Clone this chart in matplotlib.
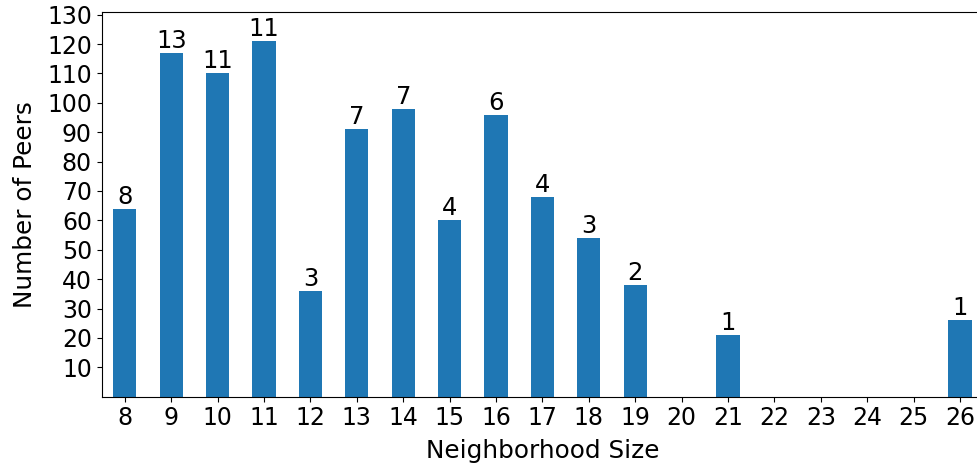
import numpy as np
import matplotlib.pyplot as plt

# neighborhood size -> number of peers, plus count shown above each bar
sizes = [8, 9, 10, 11, 12, 13, 14, 15, 16, 17, 18, 19, 20, 21, 22, 23, 24, 25, 26]
peers = [64, 117, 110, 121, 36, 91, 98, 60, 96, 68, 54, 38, 0, 21, 0, 0, 0, 0, 26]
counts = [8, 13, 11, 11, 3, 7, 7, 4, 6, 4, 3, 2, None, 1, None, None, None, None, 1]

fig = plt.figure(figsize=(9.77, 4.68), dpi=100)
ax = fig.add_axes([0.1041, 0.1524, 0.9022, 0.822])

x = np.arange(len(sizes))
bars = ax.bar(x, peers, width=0.5, color='#1f77b4')
ax.bar_label(bars, labels=['' if c is None else str(c) for c in counts], fontsize=17.5, padding=0)

ax.set_xticks(x)
ax.set_xticklabels([str(s) for s in sizes], fontsize=17)
ax.set_yticks(np.arange(10, 131, 10))
ax.tick_params(axis='y', labelsize=17)
ax.set_xlim(-0.5, len(sizes) - 0.5)
ax.set_ylim(0, 130.9)
ax.set_xlabel('Neighborhood Size', fontsize=17.8, labelpad=6)
ax.set_ylabel('Number of Peers', fontsize=17.8, labelpad=7.5)

fig.savefig('out.png', dpi=100)
